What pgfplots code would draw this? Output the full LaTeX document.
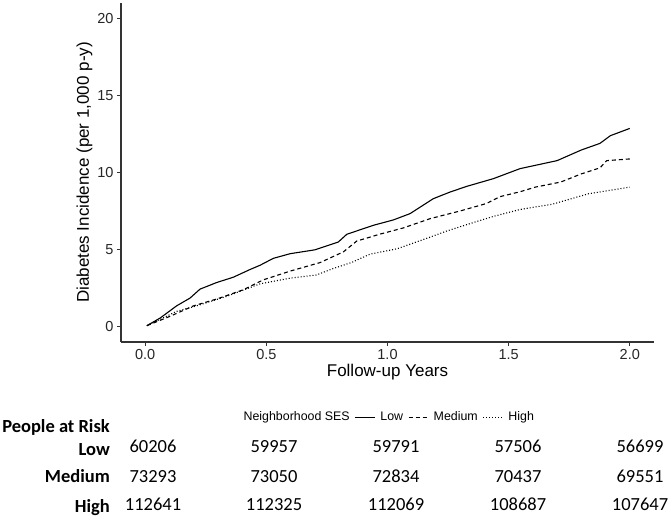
\documentclass[border=0pt]{standalone}
\usepackage{pgfplots}
\pgfplotsset{compat=1.18}
\usepackage{pgfplotstable}
\usepackage{fontspec}
\setmainfont{Liberation Sans}
\newfontfamily\calibri{Carlito}

\pgfplotstableread{
x y
0.007 0.06
0.062 0.56
0.13 1.35
0.185 1.85
0.226 2.43
0.295 2.86
0.363 3.20
0.432 3.70
0.474 3.98
0.529 4.43
0.598 4.73
0.70 4.98
0.797 5.49
0.832 5.99
0.941 6.57
1.024 6.92
1.093 7.33
1.189 8.30
1.258 8.73
1.327 9.10
1.437 9.60
1.547 10.25
1.70 10.77
1.80 11.46
1.877 11.89
1.92 12.39
2.0 12.86
}\lowdata

\pgfplotstableread{
x y
0.007 0.06
0.103 0.67
0.20 1.35
0.295 1.79
0.405 2.39
0.487 3.03
0.598 3.60
0.721 4.15
0.818 4.85
0.873 5.55
0.969 6.00
1.065 6.40
1.175 7.00
1.299 7.50
1.409 7.99
1.464 8.43
1.547 8.75
1.61 9.05
1.715 9.38
1.80 9.91
1.877 10.30
1.905 10.77
2.0 10.88
}\meddata

\pgfplotstableread{
x y
0.007 0.06
0.13 0.99
0.213 1.35
0.336 1.96
0.473 2.77
0.597 3.14
0.707 3.35
0.776 3.77
0.85 4.15
0.928 4.70
1.04 5.05
1.175 5.80
1.244 6.20
1.354 6.75
1.437 7.15
1.547 7.60
1.68 7.94
1.83 8.62
2.0 9.05
}\highdata

\begin{document}
\begin{tikzpicture}[x=1pt,y=1pt]
\path[use as bounding box] (0,0) rectangle (669,518);
\begin{axis}[
  at={(121pt,176pt)}, anchor=south west,
  width=533pt, height=339pt, scale only axis,
  xmin=-0.1, xmax=2.1, ymin=-1, ymax=21,
  axis lines*=left,
  axis line style={line width=1.1pt, black!80},
  xtick={0,0.5,1,1.5,2},
  xticklabels={0.0,0.5,1.0,1.5,2.0},
  ytick={0,5,10,15,20},
  tick align=outside, major tick length=4pt,
  tick style={line width=0.8pt, black!80},
  /pgf/number format/assume math mode=true,
  ticklabel style={font=\fontsize{14.5}{16}\selectfont, text=black!85},
  xlabel={Follow-up Years},
  ylabel={Diabetes Incidence (per 1,000 p-y)},
  label style={font=\fontsize{17}{19}\selectfont},
  xlabel style={yshift=2pt},
  ylabel style={yshift=-2pt},
  clip=false,
  legend columns=-1,
  legend style={draw=none, fill=none, at={(axis description cs:0.5,-0.222)}, anchor=center,
    font=\fontsize{12.4}{14}\selectfont,
    /tikz/every even column/.append style={column sep=3pt},
    /tikz/every odd column/.append style={column sep=2.5pt}},
  legend image code/.code={\draw[#1] (0pt,0pt) -- (20pt,0pt);},
]
\addlegendimage{empty legend}
\addlegendentry{Neighborhood SES}
\addplot[black, line width=1.1pt, solid] table[x=x,y=y] {\lowdata};
\addlegendentry{Low}
\addplot[black, line width=1.1pt, dash pattern=on 4pt off 3pt] table[x=x,y=y] {\meddata};
\addlegendentry{Medium}
\addplot[black, line width=1.1pt, dash pattern=on 1pt off 2pt] table[x=x,y=y] {\highdata};
\addlegendentry{High}
\end{axis}
% People at risk table
\begin{scope}[every node/.style={font=\calibri\fontsize{18.5}{20}\selectfont, inner sep=0pt}]
\node[anchor=base east, font=\calibri\bfseries\fontsize{18.5}{20}\selectfont] at (110,85) {People at Risk};
\node[anchor=base east, font=\calibri\bfseries\fontsize{18.5}{20}\selectfont] at (110,62) {Low};
\node[anchor=base east, font=\calibri\bfseries\fontsize{18.5}{20}\selectfont] at (110,35) {Medium};
\node[anchor=base east, font=\calibri\bfseries\fontsize{18.5}{20}\selectfont] at (110,5) {High};
\node[anchor=base] at (153,65) {60206};
\node[anchor=base] at (274,65) {59957};
\node[anchor=base] at (396,65) {59791};
\node[anchor=base] at (518,65) {57506};
\node[anchor=base] at (640,65) {56699};
\node[anchor=base] at (153,35) {73293};
\node[anchor=base] at (274,35) {73050};
\node[anchor=base] at (396,35) {72834};
\node[anchor=base] at (518,35) {70437};
\node[anchor=base] at (640,35) {69551};
\node[anchor=base] at (153,7) {112641};
\node[anchor=base] at (274,7) {112325};
\node[anchor=base] at (396,7) {112069};
\node[anchor=base] at (518,7) {108687};
\node[anchor=base] at (640,7) {107647};
\end{scope}
\end{tikzpicture}
\end{document}
